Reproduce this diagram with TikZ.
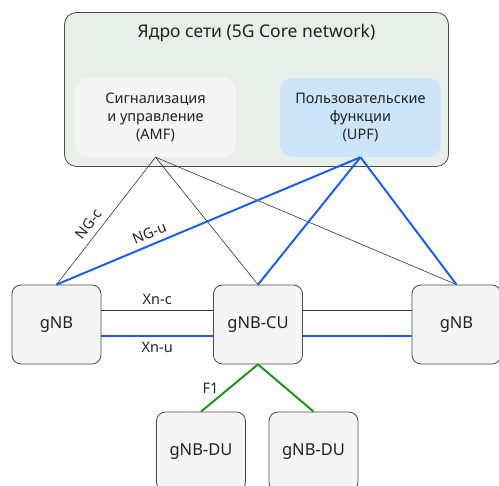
\documentclass[tikz,border=0pt]{standalone}
\usepackage{fontspec}
\setmainfont{Noto Sans}
\usepackage{tikz}
\definecolor{corefill}{HTML}{E8EFEB}
\definecolor{amffill}{HTML}{F5F5F5}
\definecolor{upffill}{HTML}{CDE5F8}
\definecolor{boxfill}{HTML}{F5F5F5}
\definecolor{uline}{HTML}{1F5FE6}
\definecolor{fline}{HTML}{1E9420}
\definecolor{txt}{HTML}{222222}

\begin{document}
\begin{tikzpicture}[x=1pt,y=-1pt,text=txt,
	core/.style={draw=black!70,line width=0.8pt,fill=corefill,rounded corners=12pt,minimum width=384pt,minimum height=154pt},
	func/.style={rounded corners=12pt,minimum width=161pt,minimum height=79pt,align=center,font=\fontsize{14.5}{18}\selectfont},
	gnb/.style={draw=black!70,line width=0.8pt,fill=boxfill,rounded corners=9pt,minimum width=89pt,minimum height=79pt,font=\fontsize{16.5}{19}\selectfont},
	cline/.style={black!80,line width=0.6pt},
	uplane/.style={uline,line width=2pt},
	fone/.style={fline,line width=2pt},
	lbl/.style={text=txt,font=\fontsize{14.5}{17}\selectfont,inner sep=1pt}]
	\useasboundingbox (0,0) rectangle (499,486);
	\node[core] (core) at (256.5,89.5) {};
	\node[font=\fontsize{17.5}{20}\selectfont] (title) at (256.5,33) {Ядро сети (5G Core network)};
	\node[func,fill=amffill] (amf) at (155.5,117.5) {Сигнализация\\и управление\\(AMF)};
	\node[func,fill=upffill] (upf) at (360.5,117.5) {Пользовательские\\функции\\(UPF)};

	\node[gnb] (gnbl) at (56.5,324.5) {gNB};
	\node[gnb] (cu) at (258,324.5) {gNB-CU};
	\node[gnb] (gnbr) at (456.5,324.5) {gNB};
	\node[gnb] (dul) at (201,451.5) {gNB-DU};
	\node[gnb] (dur) at (313.5,451.5) {gNB-DU};

	\draw[cline] (amf.south) -- node[lbl,sloped,above=5pt,pos=0.58] {NG-c} (gnbl.north);
	\draw[cline] (amf.south) -- (cu.north);
	\draw[cline] (amf.south) -- (gnbr.north);
	\draw[uplane] (upf.south) -- node[lbl,sloped,above=4pt,pos=0.68] {NG-u} (gnbl.north);
	\draw[uplane] (upf.south) -- (cu.north);
	\draw[uplane] (upf.south) -- (gnbr.north);

	\draw[cline] ([yshift=14.5pt]gnbl.east) -- node[lbl,above=4pt] {Xn-c} ([yshift=14.5pt]cu.west);
	\draw[cline] ([yshift=14.5pt]cu.east) -- ([yshift=14.5pt]gnbr.west);
	\draw[uplane] ([yshift=-11.5pt]gnbl.east) -- node[lbl,below=4pt] {Xn-u} ([yshift=-11.5pt]cu.west);
	\draw[uplane] ([yshift=-11.5pt]cu.east) -- ([yshift=-11.5pt]gnbr.west);

	\draw[fone] (cu.south) -- node[lbl,left=9pt,pos=0.5] {F1} (dul.north);
	\draw[fone] (cu.south) -- (dur.north);
\end{tikzpicture}
\end{document}
